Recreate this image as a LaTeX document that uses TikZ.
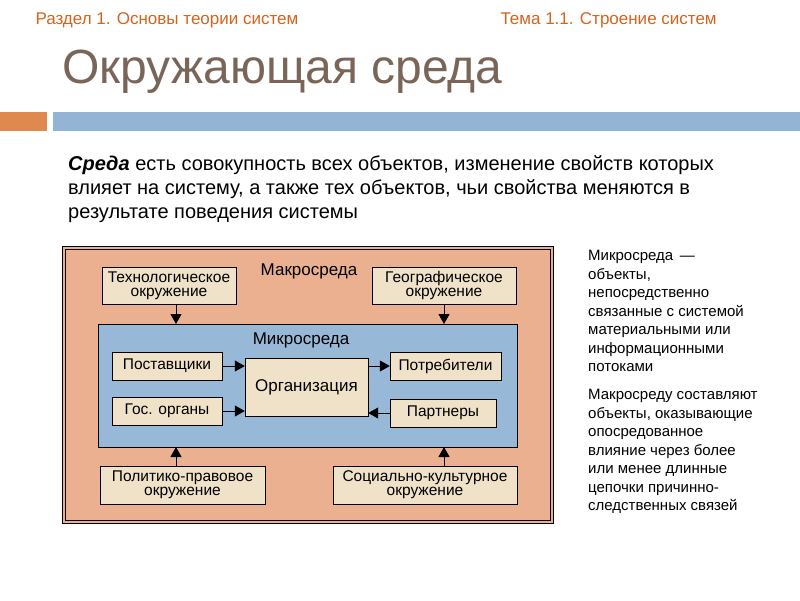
\documentclass[tikz,border=0pt]{standalone}
\usepackage{fontspec}
\setmainfont{Liberation Sans}
\usetikzlibrary{arrows.meta}
\definecolor{org}{HTML}{D4631C}
\definecolor{ttl}{HTML}{7A6658}
\definecolor{macro}{HTML}{EAB090}
\definecolor{micro}{HTML}{98B8D8}
\definecolor{bx}{HTML}{EFE2C8}
\definecolor{bar}{HTML}{93B4D4}
\definecolor{obar}{HTML}{E0894E}
\tikzset{bbox/.style={draw=black,fill=bx,inner sep=0pt,font=\fontsize{15.5}{14}\selectfont,align=center},
arr/.style={-{Triangle[length=10pt,width=11pt]},line width=1pt}}
\begin{document}
\begin{tikzpicture}[x=1pt,y=-1pt]
\useasboundingbox (0,0) rectangle (800,600);
\node[anchor=west,text=org,font=\fontsize{17}{17}\selectfont] (h1) at (32,20) {Раздел 1. Основы теории систем};
\node[anchor=west,text=org,font=\fontsize{17}{17}\selectfont] (h2) at (497,20) {Тема 1.1. Строение  систем};
\node[anchor=west,text=ttl,font=\fontsize{48}{48}\selectfont,inner sep=0pt] (t) at (62,72) {Окружающая среда};
\fill[obar] (0,112) rectangle (47,131);
\fill[bar] (53,112) rectangle (800,131);
\node[anchor=north west,align=left,font=\fontsize{20}{24}\selectfont,inner sep=0pt] (def) at (68,155) {\textbf{\textit{Среда}} есть совокупность всех объектов, изменение  свойств которых\\влияет на систему, а также тех объектов, чьи свойства меняются в\\результате поведения системы};
\draw[fill=macro,line width=0.8pt] (62,246) rectangle (553,523);
\draw[line width=0.6pt] (65,249) rectangle (550,520);
\node[font=\fontsize{17}{17}\selectfont] (mac) at (309,271) {Макросреда};
\draw[fill=micro] (98,324) rectangle (517,447);
\node[font=\fontsize{17}{17}\selectfont] (mic) at (301,340) {Микросреда};
\node[bbox,minimum width=134,minimum height=37] (tech) at (169,285.5) {Технологическое\\окружение};
\node[bbox,minimum width=144,minimum height=37] (geo) at (444,285.5) {Географическое\\окружение};
\node[bbox,minimum width=110,minimum height=28] (post) at (167,366) {Поставщики};
\node[bbox,minimum width=110,minimum height=28] (gos) at (167,411) {Гос. органы};
\node[bbox,minimum width=123,minimum height=58,font=\fontsize{17}{17}\selectfont] (orgn) at (306.5,387) {Организация};
\node[bbox,minimum width=111,minimum height=28] (potr) at (445.5,366) {Потребители};
\node[bbox,minimum width=106,minimum height=28] (part) at (443,413) {Партнеры};
\node[bbox,minimum width=165,minimum height=38] (pol) at (182.5,485) {Политико-правовое\\окружение};
\node[bbox,minimum width=184,minimum height=38] (soc) at (425,485) {Социально-культурное\\окружение};
\coordinate (m1) at (176,324); \coordinate (m2) at (444,324);
\coordinate (m3) at (176,447); \coordinate (m4) at (444,447);
\draw[arr] (tech.south -| m1) -- (m1);
\draw[arr] (geo.south -| m2) -- (m2);
\draw[arr] (pol.north -| m3) -- (m3);
\draw[arr] (soc.north -| m4) -- (m4);
\draw[arr] (post.east) -- (post.east -| orgn.west);
\draw[arr] (gos.east) -- (gos.east -| orgn.west);
\draw[arr] (orgn.east |- potr.west) -- (potr.west);
\draw[arr] (part.west) -- (part.west -| orgn.east);
\node[anchor=north west,align=left,inner sep=0pt,font=\fontsize{15}{18.5}\selectfont] (r1) at (588,250) {Микросреда \,—\\объекты,\\непосредственно\\связанные с системой\\материальными  или\\информационными\\потоками};
\node[anchor=north west,align=left,inner sep=0pt,font=\fontsize{15}{18.5}\selectfont] (r2) at (588,389) {Макросреду составляют\\объекты, оказывающие\\опосредованное\\влияние  через более\\или  менее длинные\\цепочки причинно-\\следственных связей};
\end{tikzpicture}
\end{document}
